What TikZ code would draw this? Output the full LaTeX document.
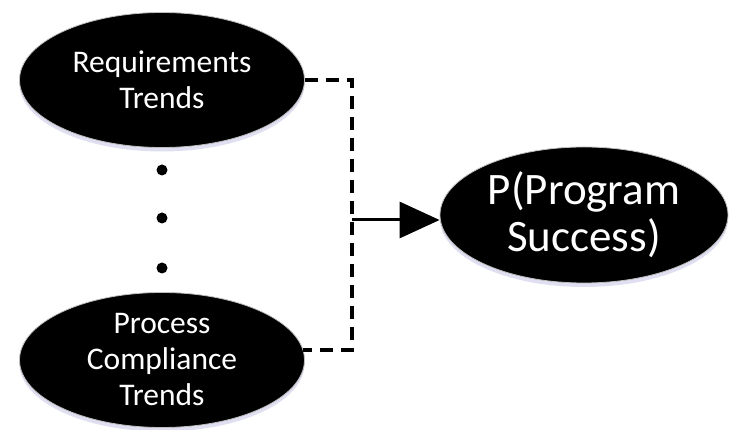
\documentclass[tikz,border=0pt]{standalone}
\usepackage{fontspec}
\setmainfont{Carlito}
\usetikzlibrary{shapes.geometric,arrows.meta,shadows}

\begin{document}
\begin{tikzpicture}[x=1pt,y=-1pt,
    oval/.style={ellipse, fill=black, draw=gray!50, line width=0.8pt, text=white,
        align=center, inner sep=0pt, minimum width=285pt, minimum height=135pt,
        font=\fontsize{31.5}{36}\selectfont,
        drop shadow={shadow xshift=0pt, shadow yshift=-4pt, fill=cyan!20!blue!20, opacity=0.6}},
    dashline/.style={line width=3.5pt, dash pattern=on 13pt off 8pt},
    dotmark/.style={circle, fill=black, inner sep=0pt, minimum size=11pt}]
    \useasboundingbox (0,0) rectangle (732,430);

    % Ellipsen
    \node[oval] (req) at (162,80) {Requirements\\Trends};
    \node[oval, inner sep=-6pt] (pc) at (162,360) {Process\\Compliance\\Trends};
    \node[oval, minimum width=288pt, minimum height=136pt,
        font=\fontsize{45}{47}\selectfont] (succ) at (584,215) {P(Program\\Success)};

    % Punkte
    \node[dotmark] (d1) at (162,170) {};
    \node[dotmark] (d2) at (162,218) {};
    \node[dotmark] (d3) at (162,268) {};

    % Verbindungen
    \coordinate (bus) at (352,220);
    \draw[dashline] (req.east) -- (req.east -| bus) -- (pc.4 -| bus) -- (pc.4);
    \draw[line width=3pt, -{Triangle[length=40pt,width=36pt]}] (bus) -- (bus -| succ.west);
\end{tikzpicture}
\end{document}
